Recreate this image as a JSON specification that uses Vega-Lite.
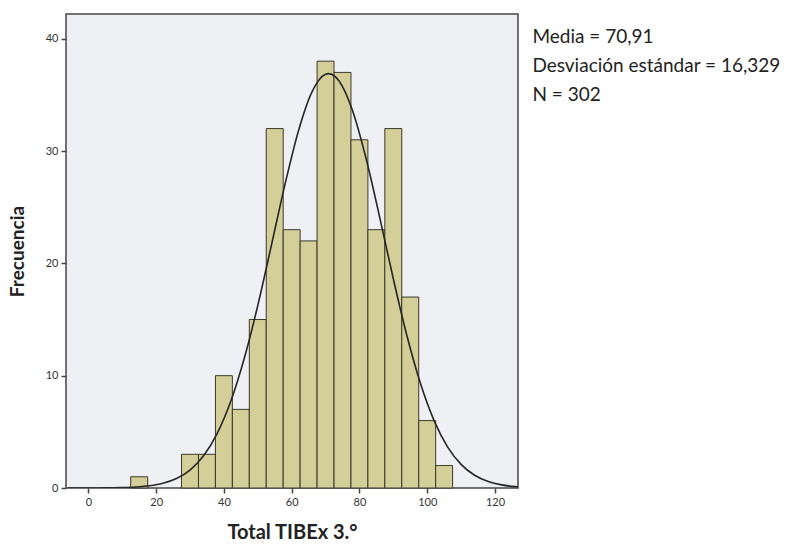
{
  "$schema": "https://vega.github.io/schema/vega-lite/v6.json",
  "width": 452,
  "height": 474,
  "autosize": {"type": "none"},
  "padding": {"left": 66, "top": 14, "right": 273, "bottom": 57},
  "background": "#ffffff",
  "config": {
    "font": "Lato",
    "view": {"fill": "#EEF0F3", "stroke": "#4a4444", "strokeWidth": 1.5}
  },
  "title": {
    "text": ["Media = 70,91", "Desviación estándar = 16,329", "N = 302"],
    "orient": "right",
    "angle": 0,
    "anchor": "start",
    "align": "left",
    "baseline": "top",
    "offset": 15,
    "font": "Lato",
    "fontSize": 19,
    "fontWeight": "normal",
    "lineHeight": 29,
    "color": "#222222",
    "dy": 14,
    "dx": -249
  },
  "datasets": {
    "bins": [
      {"bin_start": 12.5, "bin_end": 17.5, "count": 1},
      {"bin_start": 27.5, "bin_end": 32.5, "count": 3},
      {"bin_start": 32.5, "bin_end": 37.5, "count": 3},
      {"bin_start": 37.5, "bin_end": 42.5, "count": 10},
      {"bin_start": 42.5, "bin_end": 47.5, "count": 7},
      {"bin_start": 47.5, "bin_end": 52.5, "count": 15},
      {"bin_start": 52.5, "bin_end": 57.5, "count": 32},
      {"bin_start": 57.5, "bin_end": 62.5, "count": 23},
      {"bin_start": 62.5, "bin_end": 67.5, "count": 22},
      {"bin_start": 67.5, "bin_end": 72.5, "count": 38},
      {"bin_start": 72.5, "bin_end": 77.5, "count": 37},
      {"bin_start": 77.5, "bin_end": 82.5, "count": 31},
      {"bin_start": 82.5, "bin_end": 87.5, "count": 23},
      {"bin_start": 87.5, "bin_end": 92.5, "count": 32},
      {"bin_start": 92.5, "bin_end": 97.5, "count": 17},
      {"bin_start": 97.5, "bin_end": 102.5, "count": 6},
      {"bin_start": 102.5, "bin_end": 107.5, "count": 2}
    ],
    "curve": [
      {"x": -6, "y": 0.0006},
      {"x": -2, "y": 0.0017},
      {"x": 2, "y": 0.005},
      {"x": 6, "y": 0.0137},
      {"x": 10, "y": 0.0351},
      {"x": 14, "y": 0.085},
      {"x": 18, "y": 0.1936},
      {"x": 22, "y": 0.4157},
      {"x": 26, "y": 0.8407},
      {"x": 30, "y": 1.599},
      {"x": 34, "y": 2.867},
      {"x": 38, "y": 4.84},
      {"x": 42, "y": 7.696},
      {"x": 46, "y": 11.523},
      {"x": 50, "y": 16.249},
      {"x": 54, "y": 21.579},
      {"x": 58, "y": 26.989},
      {"x": 62, "y": 31.787},
      {"x": 66, "y": 35.26},
      {"x": 70, "y": 36.833},
      {"x": 70.91, "y": 36.89},
      {"x": 74, "y": 36.236},
      {"x": 78, "y": 33.571},
      {"x": 82, "y": 29.293},
      {"x": 86, "y": 24.071},
      {"x": 90, "y": 18.627},
      {"x": 94, "y": 13.574},
      {"x": 98, "y": 9.317},
      {"x": 102, "y": 6.022},
      {"x": 106, "y": 3.665},
      {"x": 110, "y": 2.101},
      {"x": 114, "y": 1.134},
      {"x": 118, "y": 0.577},
      {"x": 122, "y": 0.2763},
      {"x": 126, "y": 0.1246},
      {"x": 126.8, "y": 0.106}
    ]
  },
  "layer": [
    {
      "data": {"name": "bins"},
      "mark": {"type": "rect", "fill": "#D4CF98", "stroke": "#3b382c", "strokeWidth": 1},
      "encoding": {
        "x": {
          "field": "bin_start",
          "type": "quantitative",
          "scale": {"domain": [-6.6, 126.8], "nice": false, "zero": false},
          "axis": {
            "values": [0, 20, 40, 60, 80, 100, 120],
            "title": "Total TIBEx 3.°",
            "titleFont": "Lato",
            "titleFontSize": 20,
            "titleFontWeight": "bold",
            "titleColor": "#222222",
            "titlePadding": 15,
            "labelFont": "Lato",
            "labelFontSize": 11,
            "labelColor": "#333333",
            "labelPadding": 3,
            "tickColor": "#4a4444",
            "tickSize": 5,
            "tickWidth": 1.5,
            "domain": false,
            "grid": false
          }
        },
        "x2": {"field": "bin_end"},
        "y": {
          "field": "count",
          "type": "quantitative",
          "scale": {"domain": [0, 42.2], "nice": false},
          "axis": {
            "values": [0, 10, 20, 30, 40],
            "title": "Frecuencia",
            "titleFont": "Lato",
            "titleFontSize": 19,
            "titleFontWeight": "bold",
            "titleColor": "#222222",
            "titlePadding": 18,
            "labelFont": "Lato",
            "labelFontSize": 11,
            "labelColor": "#333333",
            "labelPadding": 3,
            "tickColor": "#4a4444",
            "tickSize": 5,
            "tickWidth": 1.5,
            "domain": false,
            "grid": false
          }
        },
        "y2": {"datum": 0}
      }
    },
    {
      "data": {"name": "curve"},
      "mark": {"type": "line", "color": "#262626", "strokeWidth": 1.6, "interpolate": "monotone", "clip": true},
      "encoding": {
        "x": {"field": "x", "type": "quantitative"},
        "y": {"field": "y", "type": "quantitative"}
      }
    }
  ]
}
